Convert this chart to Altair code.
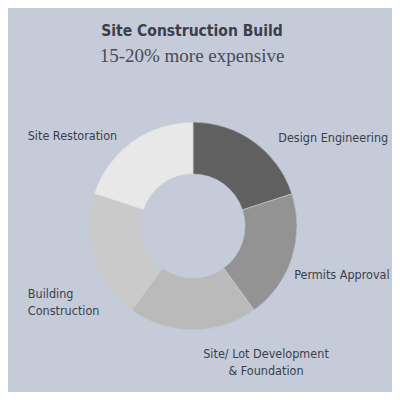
import altair as alt
import pandas as pd

categories = [
    "Design Engineering",
    "Permits Approval",
    "Site/ Lot Development\n& Foundation",
    "Building\nConstruction",
    "Site Restoration",
]
shares = [20, 20, 20, 20, 20]
slice_colors = ["#606060", "#939393", "#bababa", "#cacaca", "#e8e8e8"]

BG = "#c5cbd8"
TEXT = "#3a3f4b"
LABEL_FONT = "DejaVu Sans Condensed, Liberation Sans Narrow, sans-serif"

df = pd.DataFrame({"category": categories, "share": shares, "order": list(range(len(categories)))})

CX, CY = 185, 154

base = alt.Chart(df)

arcs = base.mark_arc(innerRadius=52, outerRadius=104, stroke=BG, strokeWidth=0.6).encode(
    theta=alt.Theta("share:Q", stack=True),
    order=alt.Order("order:Q"),
    color=alt.Color("category:N", scale=alt.Scale(domain=categories, range=slice_colors), legend=None),
    x=alt.value(CX),
    y=alt.value(CY),
)

# label placement: (align, dx, dy) relative to each slice's mid-angle at radius 140
label_style = {
    categories[0]: ("left", 3, 25),
    categories[1]: ("left", -32, 6),
    categories[2]: ("center", 73, -12),
    categories[3]: ("left", -32, 25),
    categories[4]: ("left", -83, 23),
}

label_base = base.transform_window(
    cum="sum(share)", sort=[alt.SortField("order")]
).transform_calculate(mid="datum.cum - datum.share / 2")

labels = []
for cat in categories:
    align, dx, dy = label_style[cat]
    labels.append(
        label_base.transform_filter(alt.datum.category == cat)
        .mark_text(
            align=align, baseline="middle", dx=dx, dy=dy, font=LABEL_FONT,
            fontSize=12.5, color=TEXT, lineBreak="\n", lineHeight=16.5,
        )
        .encode(
            theta=alt.Theta("mid:Q", scale=alt.Scale(domain=[0, sum(shares)])),
            radius=alt.value(140),
            text="category:N",
            x=alt.value(CX),
            y=alt.value(CY),
        )
    )

chart = (
    alt.layer(arcs, *labels)
    .properties(
        width=384,
        height=320,
        autosize=alt.AutoSizeParams(type="none"),
        padding={"left": 0, "top": 64, "right": 0, "bottom": 0},
        background=BG,
        title=alt.TitleParams(
            text="Site Construction Build",
            subtitle="15-20% more expensive",
            anchor="middle",
            dx=-8,
            offset=6,
            font=LABEL_FONT,
            fontSize=15.5,
            fontWeight="bold",
            color=TEXT,
            subtitleFont="Liberation Serif, DejaVu Serif, serif",
            subtitleFontSize=19,
            subtitleColor="#474c58",
            subtitlePadding=8,
        ),
    )
    .configure_view(strokeWidth=0)
)

chart.save("out.html", embed_options={"renderer": "svg", "actions": False})
